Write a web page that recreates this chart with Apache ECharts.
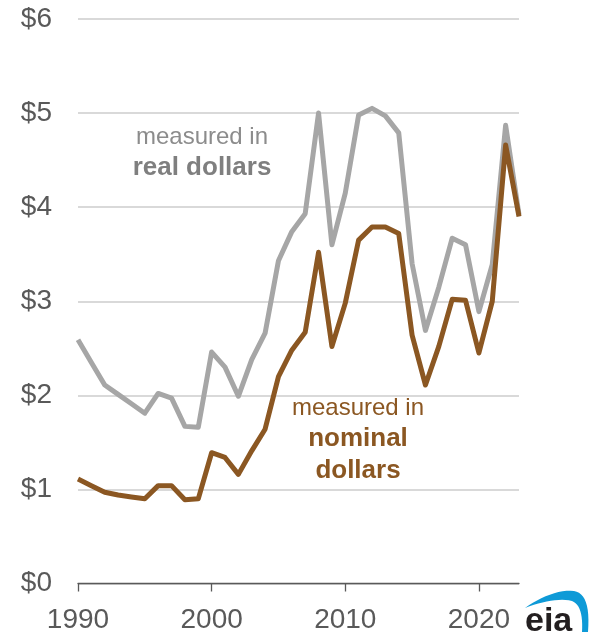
<!DOCTYPE html>
<html>
<head>
<meta charset="utf-8">
<script src="https://cdn.jsdelivr.net/npm/echarts@6/dist/echarts.min.js"></script>
<style>
  html, body { margin: 0; padding: 0; background: #ffffff; }
  #chart { width: 592px; height: 632px; }
</style>
</head>
<body>
<div id="chart"></div>
<script>
// Annual average price, dollars per gallon, 1990-2023
const years = [
  1990, 1991, 1992, 1993, 1994, 1995, 1996, 1997, 1998, 1999,
  2000, 2001, 2002, 2003, 2004, 2005, 2006, 2007, 2008, 2009,
  2010, 2011, 2012, 2013, 2014, 2015, 2016, 2017, 2018, 2019,
  2020, 2021, 2022, 2023
];

// inflation-adjusted (real) dollars
const realPrice = [
  2.59, 2.35, 2.11, 2.01, 1.91, 1.81, 2.02, 1.97, 1.67, 1.66,
  2.46, 2.30, 1.99, 2.38, 2.66, 3.43, 3.74, 3.93, 5.00, 3.60,
  4.15, 4.98, 5.05, 4.97, 4.79, 3.40, 2.69, 3.15, 3.67, 3.60,
  2.89, 3.39, 4.87, 3.92
];

// nominal dollars
const nominalPrice = [
  1.11, 1.04, 0.97, 0.94, 0.92, 0.90, 1.04, 1.04, 0.89, 0.90,
  1.39, 1.34, 1.16, 1.41, 1.64, 2.20, 2.48, 2.67, 3.52, 2.52,
  2.98, 3.65, 3.79, 3.79, 3.72, 2.64, 2.11, 2.52, 3.02, 3.01,
  2.45, 3.00, 4.66, 3.90
];

const yTicks = [0, 1, 2, 3, 4, 5, 6];
const labeledYears = [1990, 2000, 2010, 2020];

const FONT = '"Liberation Sans", Arial, sans-serif';
const AXIS_TEXT = '#595959';
const GRAY = '#A6A6A6';
const BROWN = '#8B5722';

// sample a cubic Bezier segment into polygon points
function cubic(p0, p1, p2, p3, n) {
  const pts = [];
  for (let i = 0; i <= n; i++) {
    const t = i / n, u = 1 - t;
    pts.push([
      u * u * u * p0[0] + 3 * u * u * t * p1[0] + 3 * u * t * t * p2[0] + t * t * t * p3[0],
      u * u * u * p0[1] + 3 * u * u * t * p1[1] + 3 * u * t * t * p2[1] + t * t * t * p3[1]
    ]);
  }
  return pts;
}

// crescent swoosh of the logo: outer edge, then inner edge back
const swoosh = [].concat(
  cubic([525, 608], [540, 597], [560, 589], [574, 591], 12),
  cubic([574, 591], [585, 593], [590, 605], [588, 632], 12),
  cubic([582, 632], [583, 615], [580, 604], [572, 601], 12),
  cubic([572, 601], [560, 598], [543, 601], [525, 608], 12)
);

const chart = echarts.init(document.getElementById('chart'), null, { renderer: 'canvas' });

const showYear = (idx) => labeledYears.indexOf(years[idx]) !== -1;

chart.setOption({
  animation: false,
  backgroundColor: '#ffffff',
  grid: { left: 78, right: 73, top: 19, bottom: 48.5, containLabel: false, outerBoundsMode: 'none' },
  xAxis: {
    type: 'category',
    data: years.map(String),
    boundaryGap: false,
    axisLine: { show: true, lineStyle: { color: AXIS_TEXT, width: 1.3 } },
    axisTick: {
      show: true, inside: false, length: 8,
      interval: (idx) => showYear(idx),
      lineStyle: { color: AXIS_TEXT, width: 1.3 }
    },
    axisLabel: {
      interval: (idx) => showYear(idx),
      margin: 23,
      color: AXIS_TEXT,
      fontSize: 28,
      fontFamily: FONT
    },
    splitLine: { show: false }
  },
  yAxis: {
    type: 'value',
    min: yTicks[0],
    max: yTicks[yTicks.length - 1],
    interval: 1,
    axisLine: { show: false },
    axisTick: { show: false },
    axisLabel: {
      margin: 26,
      color: AXIS_TEXT,
      fontSize: 28,
      fontFamily: FONT,
      formatter: (v) => '$' + v
    },
    splitLine: { show: true, lineStyle: { color: '#D9D9D9', width: 2 } }
  },
  series: [
    {
      name: 'real dollars',
      type: 'line',
      data: realPrice,
      showSymbol: false,
      smooth: false,
      lineStyle: { color: GRAY, width: 5, join: 'round' },
      z: 2
    },
    {
      name: 'nominal dollars',
      type: 'line',
      data: nominalPrice,
      showSymbol: false,
      smooth: false,
      lineStyle: { color: BROWN, width: 5, join: 'round' },
      z: 3
    }
  ],
  graphic: [
    // series annotations
    { type: 'text', x: 202, y: 137, style: { text: 'measured in', fill: '#8C8C8C', font: '24px ' + FONT, align: 'center', verticalAlign: 'middle' } },
    { type: 'text', x: 202, y: 168, style: { text: 'real dollars', fill: '#7F7F7F', font: 'bold 26px ' + FONT, align: 'center', verticalAlign: 'middle' } },
    { type: 'text', x: 358, y: 408, style: { text: 'measured in', fill: BROWN, font: '24px ' + FONT, align: 'center', verticalAlign: 'middle' } },
    { type: 'text', x: 358, y: 439, style: { text: 'nominal', fill: BROWN, font: 'bold 26px ' + FONT, align: 'center', verticalAlign: 'middle' } },
    { type: 'text', x: 358, y: 471, style: { text: 'dollars', fill: BROWN, font: 'bold 26px ' + FONT, align: 'center', verticalAlign: 'middle' } },
    // eia logo
    { type: 'polygon', shape: { points: swoosh }, style: { fill: '#0E9AD7' } },
    { type: 'text', x: 525, y: 622, style: { text: 'eia', fill: '#231F20', font: 'bold 34px ' + FONT, align: 'left', verticalAlign: 'middle' } }
  ]
});
</script>
</body>
</html>
